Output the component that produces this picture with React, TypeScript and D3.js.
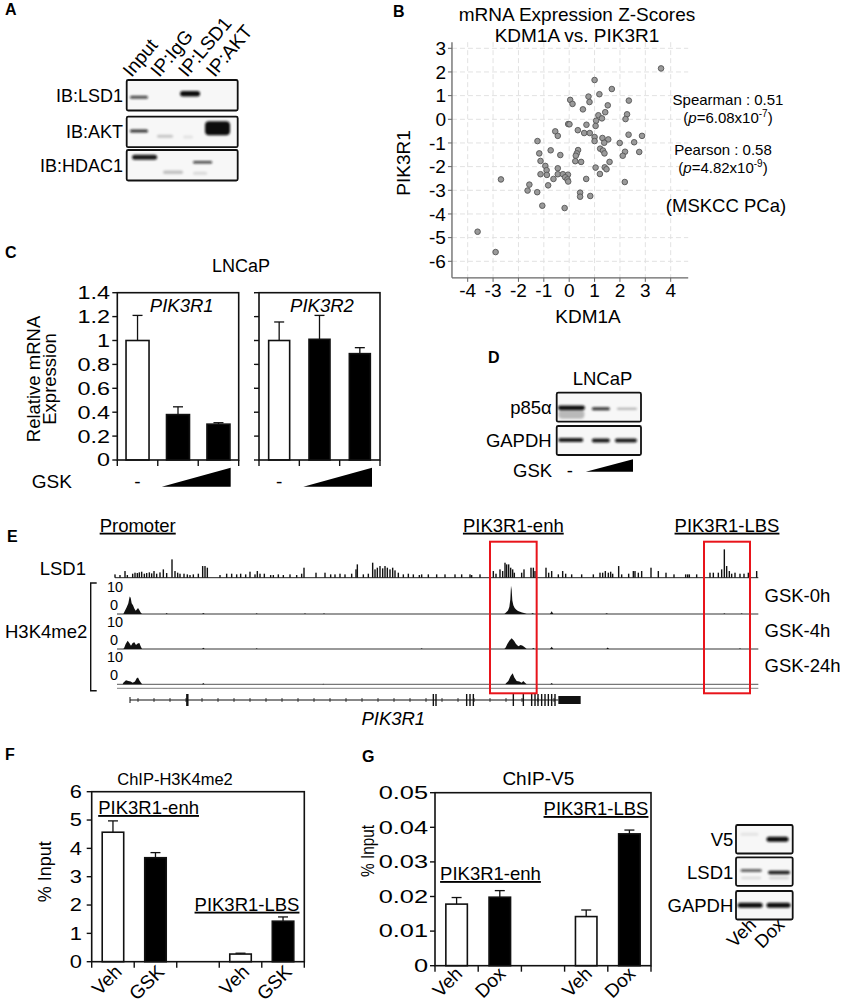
import React from "react";
import * as d3 from "d3";

const FONT = "'Liberation Sans', Arial, Helvetica, sans-serif";

// ---------------- Panel A (co-IP blot) ----------------
const blotALanes = ["Input", "IP:IgG", "IP:LSD1", "IP:AKT"];
const blotARows = ["IB:LSD1", "IB:AKT", "IB:HDAC1"];
// [row, lane, intensity, thickness, width, dy, dx]
const blotABands: number[][] = [
  [0, 0, 0.75, 3, 18, 2, -1.6],
  [0, 2, 1, 5.5, 20, -1.5, -6],
  [1, 0, 0.85, 3, 18, -1, -1.6],
  [1, 1, 0.2, 3, 16, 4.3, -3.3],
  [1, 2, 0.08, 3, 10, 5, -8],
  [1, 3, 1, 14, 25, -3.7, -6.3],
  [2, 0, 0.95, 5, 25, -8, 4],
  [2, 1, 0.22, 3.5, 20, 7, 4.7],
  [2, 2, 0.8, 2.6, 19, -3, 6.5],
  [2, 2, 0.12, 3, 14, 8, 4],
];

// ---------------- Panel B (scatter) ----------------
const kdm1aPik3r1: [number, number][] = [
  [3.62, 2.15], [1.0, 1.66], [1.68, 1.28], [1.19, 1.06], [0.76, 0.96], [0.8, 0.73], [0.04, 0.82],
  [0.13, 0.65], [2.35, 0.79], [1.52, 0.59], [0.54, 0.42], [1.42, 0.3], [1.15, 0.17], [1.29, 0.04],
  [2.28, 0.21], [2.22, 0.01], [1.06, -0.06], [-0.04, -0.2], [0.01, -0.21], [0.68, -0.23], [1.04, -0.28],
  [-0.55, -0.51], [-0.45, -0.7], [0.34, -0.46], [0.59, -0.58], [0.81, -0.58], [1.0, -0.75], [1.31, -0.79],
  [1.54, -0.85], [1.0, -0.92], [1.38, -0.99], [2.34, -0.65], [2.87, -0.7], [1.99, -1.0], [2.56, -0.97],
  [2.2, -1.37], [2.11, -1.54], [2.76, -1.38], [-1.25, -0.92], [-0.73, -1.31], [-1.18, -1.44], [0.35, -1.3],
  [0.3, -1.44], [0.26, -1.54], [0.24, -1.77], [0.47, -1.8], [1.22, -1.24], [1.33, -1.32], [1.39, -1.44],
  [-0.35, -1.51], [-1.13, -1.76], [1.59, -1.8], [1.04, -2.04], [1.4, -2.03], [1.47, -2.11], [-0.94, -1.97],
  [-0.89, -2.15], [-0.88, -2.35], [-1.13, -2.32], [-0.45, -2.07], [-0.45, -2.32], [-0.25, -2.32], [-0.05, -2.34],
  [-0.16, -2.45], [-0.07, -2.54], [-0.04, -2.63], [-0.62, -2.52], [-0.83, -2.79], [-1.57, -2.76], [-1.64, -3.01],
  [-1.26, -3.08], [-2.69, -2.54], [1.21, -2.31], [0.67, -2.52], [2.19, -2.65], [0.43, -3.1], [0.43, -3.27],
  [0.83, -3.24], [-1.06, -3.65], [-0.18, -3.75], [-3.61, -4.75], [-2.9, -5.61],
];
const scatterXTicks = [-4, -3, -2, -1, 0, 1, 2, 3, 4];
const scatterYTicks = [3, 2, 1, 0, -1, -2, -3, -4, -5, -6];

// ---------------- Panel C (qPCR) ----------------
const gskDoses = ["-", "low", "high"];
const pik3r1Mean = [1.0, 0.38, 0.3];
const pik3r1Err = [0.21, 0.065, 0.012];
const pik3r2Mean = [1.0, 1.01, 0.89];
const pik3r2Err = [0.155, 0.2, 0.05];
const cTicks = [0, 0.2, 0.4, 0.6, 0.8, 1, 1.2, 1.4];

// ---------------- Panel D (blot) ----------------
const blotDRows = ["p85α", "GAPDH"];
// [row, lane, intensity, thickness, width, dy, dx]
const blotDBands: number[][] = [
  [0, 0, 1, 4.5, 27, 0.5, 0.7],
  [0, 0, 0.25, 9, 26, 7, 0.7],
  [0, 1, 0.85, 3, 18, 1.5, 2],
  [0, 2, 0.3, 2, 20, 1.5, 0],
  [1, 0, 0.95, 4, 25, -0.5, 0],
  [1, 1, 0.95, 4, 18, 0, 2],
  [1, 2, 0.95, 4, 22, 0, -1],
];

// ---------------- Panel E (tracks) ----------------
// [genomic bin, LSD1 signal]
const lsd1Signal: [number, number][] = [
  [345, 10], [360, 8], [375, 20], [382, 8], [398, 12], [405, 15], [412, 14], [418, 16], [425, 18], [433, 12],
  [440, 14], [448, 16], [455, 13], [462, 20], [470, 12], [480, 16], [490, 25], [500, 14], [516, 55], [525, 20],
  [533, 15], [540, 12], [552, 12], [562, 10], [570, 8], [580, 10], [595, 12], [608, 35], [615, 35], [622, 30],
  [660, 8], [680, 12], [695, 12], [710, 10], [722, 12], [737, 10], [750, 18], [765, 10], [772, 20], [780, 12],
  [793, 12], [812, 8], [820, 8], [835, 10], [850, 8], [870, 10], [890, 8], [905, 12], [912, 30], [948, 15],
  [975, 15], [992, 10], [1005, 10], [1020, 12], [1035, 10], [1055, 12], [1068, 25], [1072, 40], [1090, 10],
  [1105, 12], [1118, 45], [1125, 25], [1132, 30], [1140, 35], [1148, 28], [1155, 35], [1162, 30], [1170, 25],
  [1178, 30], [1185, 22], [1195, 15], [1210, 10], [1225, 12], [1240, 10], [1258, 8], [1265, 10], [1285, 10],
  [1310, 10], [1335, 10], [1365, 10], [1385, 10], [1410, 10], [1415, 8], [1440, 10], [1480, 20], [1488, 12],
  [1500, 25], [1508, 20], [1515, 45], [1520, 40], [1526, 40], [1532, 30], [1538, 25], [1543, 15], [1565, 15],
  [1572, 25], [1593, 30], [1600, 30], [1605, 20], [1638, 30], [1646, 15], [1655, 20], [1675, 10], [1688, 20],
  [1697, 12], [1715, 10], [1745, 10], [1780, 10], [1800, 15], [1808, 15], [1816, 20], [1825, 15], [1832, 18],
  [1838, 12], [1856, 35], [1865, 10], [1886, 12], [1900, 20], [1905, 20], [1915, 15], [1925, 20], [1953, 30],
  [1975, 20], [1998, 15], [2022, 10], [2057, 10], [2063, 10], [2068, 10], [2090, 10], [2130, 15], [2140, 15],
  [2155, 15], [2165, 25], [2173, 85], [2180, 35], [2188, 20], [2195, 12], [2205, 15], [2220, 12], [2232, 12],
  [2245, 15], [2270, 20],
];
const h3k4me2_0h: [number, number][][] = [
  [[370, 0], [374, 1], [380, 2.5], [385, 4], [389, 6.5], [392, 6], [395, 4], [399, 3.2], [403, 2], [407, 1.2], [411, 1.8], [414, 2.2], [418, 1.5], [422, 0.6], [426, 0]],
  [[1513, 0], [1518, 0.6], [1524, 1.3], [1528, 2.6], [1531, 5.5], [1533, 10.5], [1535, 9], [1537, 5], [1540, 3.2], [1544, 2.2], [1549, 1.6], [1554, 1.1], [1560, 0.8], [1566, 0.6], [1572, 0.4], [1580, 0]],
  [[497, 0], [500, 0.4], [503, 0]], [[606, 0], [610, 0.4], [614, 0]], [[767, 0], [770, 0.3], [773, 0]],
  [[912, 0], [915, 0.3], [918, 0]], [[969, 0], [972, 0.3], [975, 0]], [[1594, 0], [1598, 0.4], [1602, 0]],
  [[1650, 0], [1655, 1.0], [1660, 0]], [[1816, 0], [1820, 0.3], [1824, 0]], [[2170, 0], [2173, 0.3], [2176, 0]],
  [[2222, 0], [2225, 0.3], [2228, 0]],
];
const h3k4me2_4h: [number, number][][] = [
  [[370, 0], [373, 0.6], [377, 1.85], [383, 3.1], [388, 2.2], [393, 1.2], [398, 2.2], [403, 2.5], [408, 1.5], [413, 2], [418, 2.2], [422, 1], [426, 0]],
  [[1513, 0], [1517, 0.6], [1522, 1.85], [1528, 3.1], [1535, 4], [1542, 3.1], [1548, 1.85], [1555, 1], [1562, 1.5], [1568, 1.2], [1575, 0.6], [1580, 0]],
  [[606, 0], [610, 0.5], [614, 0]], [[767, 0], [770, 0.3], [773, 0]], [[1262, 0], [1265, 0.3], [1268, 0]],
  [[1596, 0], [1600, 0.4], [1604, 0]], [[1650, 0], [1655, 0.8], [1660, 0]], [[1819, 0], [1823, 0.6], [1827, 0]],
  [[2217, 0], [2220, 0.3], [2223, 0]],
];
const h3k4me2_24h: [number, number][][] = [
  [[368, 0], [370, 0.6], [378, 1.5], [385, 1.2], [392, 1], [398, 0.6], [405, 1], [410, 2.2], [414, 2.5], [418, 1.5], [424, 0.4], [427, 0]],
  [[1516, 0], [1518, 0.4], [1525, 1.2], [1532, 3.1], [1538, 4.1], [1543, 2.5], [1550, 1.2], [1558, 1], [1565, 0.6], [1570, 1.2], [1575, 0.6], [1580, 0]],
  [[606, 0], [610, 0.5], [614, 0]], [[967, 0], [970, 0.2], [973, 0]], [[1651, 0], [1655, 0.5], [1659, 0]],
];
const h3Tracks = [
  { label: "GSK-0h", segs: h3k4me2_0h },
  { label: "GSK-4h", segs: h3k4me2_4h },
  { label: "GSK-24h", segs: h3k4me2_24h },
];
const geneSpan = [390, 1675];
const geneUTR = [1675, 1742];
const geneExons = [562, 1300, 1308, 1400, 1410, 1420, 1540, 1570, 1595, 1605, 1614, 1625, 1635, 1645, 1655, 1665];
const enhRegion = [1470, 1610];
const lbsRegion = [2112, 2250];

// ---------------- Panel F ----------------
const fCats = ["Veh", "GSK", "", "Veh", "GSK"];
const fMean = [4.57, 3.67, NaN, 0.27, 1.43];
const fErr = [0.4, 0.18, NaN, 0.03, 0.15];
const fTicks = [0, 1, 2, 3, 4, 5, 6];

// ---------------- Panel G ----------------
const gCats = ["Veh", "Dox", "", "Veh", "Dox"];
const gMean = [0.0178, 0.0198, NaN, 0.0142, 0.0381];
const gErr = [0.0019, 0.0019, NaN, 0.0019, 0.0011];
const gTicks = [0, 0.01, 0.02, 0.03, 0.04, 0.05];
const blotGRows = ["V5", "LSD1", "GAPDH"];
const blotGLanes = ["Veh", "Dox"];
const blotGBands: number[][] = [
  [0, 0, 0.08, 3, 18, -5, -0.7],
  [0, 1, 1, 5, 22, 0, -1],
  [1, 0, 0.75, 2.6, 21, -1, 1],
  [1, 0, 0.12, 2.5, 20, 6.5, 1],
  [1, 1, 0.95, 3.5, 22, 1, 0.5],
  [1, 1, 0.15, 2.5, 20, 6.5, 0.5],
  [2, 0, 1, 5, 25, 0, 0],
  [2, 1, 1, 5, 24, 0, 0],
];

// ============ components ============
function Blot(props: {
  id: string; x: number; w: number; rowTops: number[]; rowH: number; nLanes: number;
  bands: number[][]; labels: string[]; labelX: number; labelDy: number; fs: number;
}) {
  const { id, x, w, rowTops, rowH, nLanes, bands, labels, labelX, labelDy, fs } = props;
  const lane = d3.scaleBand<number>().domain(d3.range(nLanes)).range([x, x + w]);
  return (
    <g>
      {rowTops.map((t, r) => (
        <g key={r}>
          <clipPath id={`${id}-c${r}`}>
            <rect x={x} y={t} width={w} height={rowH} />
          </clipPath>
          <rect x={x} y={t} width={w} height={rowH} fill="#f7f7f7" />
          <g clipPath={`url(#${id}-c${r})`} filter="url(#blur)">
            {bands.filter((b) => b[0] === r).map((b, i) => {
              const cx = lane(b[1])! + lane.bandwidth() / 2 + b[6];
              const cy = t + rowH / 2 + b[5];
              return (
                <rect key={i} x={cx - b[4] / 2} y={cy - b[3] / 2} width={b[4]} height={b[3]}
                  rx={Math.min(b[3] / 2, 4)} fill="#111" opacity={b[2]} />
              );
            })}
          </g>
          <rect x={x} y={t} width={w} height={rowH} fill="none" stroke="#111" strokeWidth={1.8} rx={1.5} />
          <text x={labelX} y={t + rowH / 2 + labelDy} textAnchor="end" fontSize={fs}>{labels[r]}</text>
        </g>
      ))}
    </g>
  );
}

function BarPanel(props: {
  x0: number; x1: number; yTop: number; yBot: number; domain: [number, number]; ticks: number[];
  fmt: (v: number) => string; showLabels: boolean; labelX: number; n: number; mean: number[]; err: number[];
  fills: string[]; barW: number; fs: number; sx: number;
}) {
  const { x0, x1, yTop, yBot, domain, ticks, fmt, showLabels, labelX, n, mean, err, fills, barW, fs, sx } = props;
  const y = d3.scaleLinear().domain(domain).range([yBot, yTop]);
  const xb = d3.scaleBand<number>().domain(d3.range(n)).range([x0, x1]);
  const bounds = d3.range(n + 1).map((i) => (i < n ? xb(i)! : x1));
  return (
    <g>
      {mean.map((m, i) => {
        if (isNaN(m)) return null;
        const cx = xb(i)! + xb.bandwidth() / 2;
        const top = y(m);
        const et = y(m + err[i]);
        return (
          <g key={i}>
            <line x1={cx} x2={cx} y1={top} y2={et} stroke="#111" strokeWidth={1.3} />
            <line x1={cx - 5} x2={cx + 5} y1={et} y2={et} stroke="#111" strokeWidth={1.3} />
            <rect x={cx - barW / 2} y={top} width={barW} height={yBot - top} fill={fills[i]} stroke="#111" strokeWidth={1.6} />
          </g>
        );
      })}
      <rect x={x0} y={yTop} width={x1 - x0} height={yBot - yTop} fill="none" stroke="#111" strokeWidth={1.6} />
      {ticks.map((t) => (
        <g key={t}>
          <line x1={x0 - 5} x2={x0} y1={y(t)} y2={y(t)} stroke="#111" strokeWidth={1.4} />
          {showLabels && (
            <text transform={`translate(${labelX},${y(t)}) scale(${sx},1)`} dy="0.36em" textAnchor="end" fontSize={fs}>{fmt(t)}</text>
          )}
        </g>
      ))}
      {bounds.map((bx, i) => (
        <line key={i} x1={bx} x2={bx} y1={yBot} y2={yBot + 6} stroke="#111" strokeWidth={1.4} />
      ))}
    </g>
  );
}

function PanelA() {
  const laneX = d3.scaleBand<number>().domain(d3.range(4)).range([126.7, 237.7]);
  return (
    <g>
      <text x={5} y={15} fontSize={16} fontWeight="bold">A</text>
      {blotALanes.map((l, i) => (
        <text key={l} transform={`translate(${laneX(i)! + laneX.bandwidth() / 2 - 9},78) rotate(-50)`} fontSize={19}>{l}</text>
      ))}
      <Blot id="ba" x={126.7} w={111} rowTops={[80, 116.7, 150]} rowH={30.5} nLanes={4} bands={blotABands}
        labels={blotARows} labelX={123} labelDy={6.5} fs={18} />
    </g>
  );
}

function PanelB() {
  const x = d3.scaleLinear().domain([-4, 4]).range([467.7, 670.7]);
  const y = d3.scaleLinear().domain([3, -6]).range([48.3, 261.3]);
  const xl = x(-4.62), xr = x(4.69), yt = y(3.26), yb = y(-6.7);
  return (
    <g>
      <text x={393} y={17} fontSize={16} fontWeight="bold">B</text>
      <text x={577} y={21} textAnchor="middle" fontSize={19}>mRNA Expression Z-Scores</text>
      <text x={577} y={42} textAnchor="middle" fontSize={19}>KDM1A vs. PIK3R1</text>
      {scatterXTicks.map((t) => (
        <line key={"gx" + t} x1={x(t)} x2={x(t)} y1={yt} y2={yb} stroke="#e2e2e2" strokeDasharray="5,3" />
      ))}
      {scatterYTicks.map((t) => (
        <line key={"gy" + t} x1={xl} x2={xr} y1={y(t)} y2={y(t)} stroke="#e2e2e2" strokeDasharray="5,3" />
      ))}
      <line x1={xl} x2={xl} y1={yt} y2={yb} stroke="#666" strokeWidth={1.3} />
      <line x1={xl} x2={xr} y1={yb} y2={yb} stroke="#666" strokeWidth={1.3} />
      {scatterYTicks.map((t) => (
        <g key={"ty" + t}>
          <line x1={xl - 4} x2={xl} y1={y(t)} y2={y(t)} stroke="#666" />
          <text x={xl - 6} y={y(t)} dy="0.36em" textAnchor="end" fontSize={19}>{t}</text>
        </g>
      ))}
      {scatterXTicks.map((t) => (
        <g key={"tx" + t}>
          <line x1={x(t)} x2={x(t)} y1={yb} y2={yb + 4} stroke="#666" />
          <text x={x(t)} y={yb + 19} textAnchor="middle" fontSize={19}>{t}</text>
        </g>
      ))}
      {kdm1aPik3r1.map((p, i) => (
        <circle key={i} cx={x(p[0])} cy={y(p[1])} r={2.8} fill="#9a9a9a" stroke="#555" strokeWidth={0.9} />
      ))}
      <text transform={`translate(410,163) rotate(-90)`} textAnchor="middle" fontSize={19}>PIK3R1</text>
      <text x={588} y={323} textAnchor="middle" fontSize={19}>KDM1A</text>
      <text x={728} y={105} textAnchor="middle" fontSize={15}>Spearman : 0.51</text>
      <text x={728} y={123} textAnchor="middle" fontSize={15}>(<tspan fontStyle="italic">p</tspan>=6.08x10<tspan fontSize={10} dy={-6}>-7</tspan><tspan dy={6}>)</tspan></text>
      <text x={723} y={155} textAnchor="middle" fontSize={15}>Pearson : 0.58</text>
      <text x={723} y={173} textAnchor="middle" fontSize={15}>(<tspan fontStyle="italic">p</tspan>=4.82x10<tspan fontSize={10} dy={-6}>-9</tspan><tspan dy={6}>)</tspan></text>
      <text x={726} y={212} textAnchor="middle" fontSize={18.5}>(MSKCC PCa)</text>
    </g>
  );
}

function Wedge({ x0, x1, yb, h }: { x0: number; x1: number; yb: number; h: number }) {
  return <polygon points={`${x0},${yb} ${x1},${yb} ${x1},${yb - h}`} fill="#000" />;
}

function PanelC() {
  const fmt = (v: number) => (v === 0 ? "0" : v === 1 ? "1" : d3.format(".1f")(v));
  const p1 = [117.3, 238.7], p2 = [259, 380];
  const b1 = d3.scaleBand<number>().domain(d3.range(3)).range(p1 as [number, number]);
  const b2 = d3.scaleBand<number>().domain(d3.range(3)).range(p2 as [number, number]);
  return (
    <g>
      <text x={5} y={258} fontSize={16} fontWeight="bold">C</text>
      <text x={241} y={272} textAnchor="middle" fontSize={18}>LNCaP</text>
      <BarPanel x0={p1[0]} x1={p1[1]} yTop={292.7} yBot={460} domain={[0, 1.4]} ticks={cTicks} fmt={fmt}
        showLabels labelX={110} n={3} mean={pik3r1Mean} err={pik3r1Err} fills={["#fff", "#000", "#000"]} barW={23} fs={18} sx={1.3} />
      <BarPanel x0={p2[0]} x1={p2[1]} yTop={292.7} yBot={460} domain={[0, 1.4]} ticks={cTicks} fmt={fmt}
        showLabels={false} labelX={0} n={3} mean={pik3r2Mean} err={pik3r2Err} fills={["#fff", "#000", "#000"]} barW={21} fs={18} sx={1} />
      <text x={181.7} y={311.7} textAnchor="middle" fontSize={18.5} fontStyle="italic">PIK3R1</text>
      <text x={322} y={311.7} textAnchor="middle" fontSize={18.5} fontStyle="italic">PIK3R2</text>
      <text transform="translate(40,379) rotate(-90)" textAnchor="middle" fontSize={18.5}>Relative mRNA</text>
      <text transform="translate(56,379) rotate(-90)" textAnchor="middle" fontSize={18.5}>Expression</text>
      <text x={31.7} y={488} fontSize={19}>GSK</text>
      <text x={b1(0)! + b1.bandwidth() / 2} y={488} textAnchor="middle" fontSize={19}>{gskDoses[0]}</text>
      <text x={b2(0)! + b2.bandwidth() / 2} y={488} textAnchor="middle" fontSize={19}>{gskDoses[0]}</text>
      <Wedge x0={b1(1)! + 4} x1={p1[1] - 8} yb={486.7} h={19} />
      <Wedge x0={b2(1)! + 4} x1={p2[1] - 8} yb={486.7} h={19} />
    </g>
  );
}

function PanelD() {
  const lane = d3.scaleBand<number>().domain(d3.range(3)).range([556.7, 641]);
  return (
    <g>
      <text x={488} y={363} fontSize={16} fontWeight="bold">D</text>
      <text x={602.5} y={385} textAnchor="middle" fontSize={18.5}>LNCaP</text>
      <Blot id="bd" x={556.7} w={84.3} rowTops={[392.7, 426]} rowH={29} nLanes={3} bands={blotDBands}
        labels={blotDRows} labelX={551.7} labelDy={6.5} fs={18.5} />
      <text x={513} y={476.7} fontSize={18.5}>GSK</text>
      <text x={lane(0)! + lane.bandwidth() / 2 - 1} y={476.7} textAnchor="middle" fontSize={18.5}>-</text>
      <Wedge x0={lane(1)! + 1} x1={641 - 8} yb={471.7} h={12.4} />
    </g>
  );
}

function PanelE() {
  const xE = d3.scaleLinear().domain([0, 2538]).range([0, 846]);
  const hE = d3.scaleLinear().domain([0, 10]).range([0, 27]);
  const lsdH = d3.scaleLinear().domain([0, 90]).range([0, 30]);
  const lsdBase = 577.7;
  const bases = [614, 649, 684.3];
  const trackStart = 351, trackEnd = 2275;
  const geneY = 700;
  const introMarks = d3.range(geneSpan[0] + 24, geneSpan[1] - 10, 48);
  return (
    <g>
      <text x={7} y={542} fontSize={16} fontWeight="bold">E</text>
      <text x={137.7} y={531.7} textAnchor="middle" fontSize={18.5} style={{ textDecoration: "underline" }}>Promoter</text>
      <text x={xE((enhRegion[0] + enhRegion[1]) / 2)} y={531.7} textAnchor="middle" fontSize={18.5} style={{ textDecoration: "underline" }}>PIK3R1-enh</text>
      <text x={xE((lbsRegion[0] + lbsRegion[1]) / 2)} y={531.7} textAnchor="middle" fontSize={18.5} style={{ textDecoration: "underline" }}>PIK3R1-LBS</text>
      <text x={86} y={575} textAnchor="end" fontSize={18.5}>LSD1</text>
      <line x1={xE(345)} x2={xE(trackEnd)} y1={lsdBase} y2={lsdBase} stroke="#222" strokeWidth={1} />
      {lsd1Signal.map((d, i) => (
        <rect key={i} x={xE(d[0]) - 0.7} y={lsdBase - lsdH(d[1])} width={1.4} height={lsdH(d[1])} fill="#111" />
      ))}
      <text x={5} y={638} fontSize={18.5}>H3K4me2</text>
      <path d="M96.7,583 H90.7 V690.7 H96.7" fill="none" stroke="#111" strokeWidth={1.4} />
      {h3Tracks.map((tr, k) => {
        const base = bases[k];
        const area = d3.area<[number, number]>().x((d) => xE(d[0])).y0(base).y1((d) => base - hE(d[1])).curve(d3.curveLinear);
        return (
          <g key={tr.label}>
            <text x={107} y={base - hE(10)} dy="0.35em" fontSize={14.5}>10</text>
            <text x={110} y={base - 4} fontSize={14.5}>0</text>
            <line x1={xE(trackStart)} x2={xE(trackEnd)} y1={base} y2={base} stroke="#777" strokeWidth={1.3} />
            {k === 2 && <line x1={xE(trackStart)} x2={xE(trackEnd)} y1={base + 4} y2={base + 4} stroke="#999" strokeWidth={1.2} />}
            {tr.segs.map((s, j) => (
              <path key={j} d={area(s) || ""} fill="#111" />
            ))}
            <text x={764.5} y={base - 12} fontSize={18.5}>{tr.label}</text>
          </g>
        );
      })}
      {/* gene model */}
      <line x1={xE(geneSpan[0])} x2={xE(geneSpan[1])} y1={geneY} y2={geneY} stroke="#111" strokeWidth={1} />
      {introMarks.map((m, i) => (
        <line key={i} x1={xE(m)} x2={xE(m)} y1={geneY - 2} y2={geneY + 2} stroke="#111" strokeWidth={0.8} />
      ))}
      <line x1={xE(geneSpan[0])} x2={xE(geneSpan[0])} y1={geneY - 3} y2={geneY + 3} stroke="#111" strokeWidth={1} />
      {geneExons.map((e, i) => (
        <rect key={i} x={xE(e) - (i === 0 ? 1.2 : 0.7)} y={geneY - 6} width={i === 0 ? 2.4 : 1.4} height={12} fill="#111" />
      ))}
      <rect x={xE(geneUTR[0])} y={geneY - 4} width={xE(geneUTR[1]) - xE(geneUTR[0])} height={8} fill="#111" />
      <text x={393.3} y={725} textAnchor="middle" fontSize={18.5} fontStyle="italic">PIK3R1</text>
      {[enhRegion, lbsRegion].map((r, i) => (
        <rect key={i} x={xE(r[0])} y={541.7} width={xE(r[1]) - xE(r[0])} height={151.6} fill="none" stroke="#e8141b" strokeWidth={2} />
      ))}
    </g>
  );
}

function PanelF() {
  const xb = d3.scaleBand<number>().domain(d3.range(5)).range([91.7, 304.3]);
  return (
    <g>
      <text x={5} y={760} fontSize={16} fontWeight="bold">F</text>
      <text x={175} y={785} textAnchor="middle" fontSize={16.5}>ChIP-H3K4me2</text>
      <BarPanel x0={91.7} x1={304.3} yTop={791.7} yBot={961.7} domain={[0, 6]} ticks={fTicks} fmt={(v) => String(v)}
        showLabels labelX={82} n={5} mean={fMean} err={fErr} fills={["#fff", "#000", "#000", "#fff", "#000"]} barW={21.5} fs={17.5} sx={1.25} />
      <text x={148.6} y={814} textAnchor="middle" fontSize={18.5} style={{ textDecoration: "underline" }}>PIK3R1-enh</text>
      <text x={247} y={910.7} textAnchor="middle" fontSize={18.5} style={{ textDecoration: "underline" }}>PIK3R1-LBS</text>
      <text transform="translate(51,871.7) rotate(-90)" textAnchor="middle" fontSize={18}>% Input</text>
      {fCats.map((c, i) => c && (
        <text key={i} transform={`translate(${xb(i)! + xb.bandwidth() / 2 + 10},${973}) rotate(-45)`} textAnchor="end" fontSize={19}>{c}</text>
      ))}
    </g>
  );
}

function PanelG() {
  const xb = d3.scaleBand<number>().domain(d3.range(5)).range([435, 651]);
  const fmt = (v: number) => (v === 0 ? "0" : d3.format(".2f")(v));
  const lane = d3.scaleBand<number>().domain(d3.range(2)).range([736, 792.7]);
  return (
    <g>
      <text x={362} y={762} fontSize={16} fontWeight="bold">G</text>
      <text x={538.3} y={785} textAnchor="middle" fontSize={19}>ChIP-V5</text>
      <BarPanel x0={435} x1={651} yTop={792.7} yBot={965.7} domain={[0, 0.05]} ticks={gTicks} fmt={fmt}
        showLabels labelX={428} n={5} mean={gMean} err={gErr} fills={["#fff", "#000", "#000", "#fff", "#000"]} barW={21.5} fs={17.5} sx={1.45} />
      <text x={490.5} y={880} textAnchor="middle" fontSize={18.5} style={{ textDecoration: "underline" }}>PIK3R1-enh</text>
      <text x={596} y={815} textAnchor="middle" fontSize={18.5} style={{ textDecoration: "underline" }}>PIK3R1-LBS</text>
      <text transform="translate(374,851) rotate(-90) scale(0.85,1)" textAnchor="middle" fontSize={18}>% Input</text>
      {gCats.map((c, i) => c && (
        <text key={i} transform={`translate(${xb(i)! + xb.bandwidth() / 2 + 7},${975}) rotate(-45)`} textAnchor="end" fontSize={19}>{c}</text>
      ))}
      <Blot id="bg" x={736} w={56.7} rowTops={[825, 857.3, 891]} rowH={28.5} nLanes={2} bands={blotGBands}
        labels={blotGRows} labelX={733.3} labelDy={7} fs={18.5} />
      {blotGLanes.map((l, i) => (
        <text key={l} transform={`translate(${lane(i)! + lane.bandwidth() / 2 + 7},${926}) rotate(-45)`} textAnchor="end" fontSize={18.5}>{l}</text>
      ))}
    </g>
  );
}

export default function App() {
  return (
    <svg width={846} height={1004} viewBox="0 0 846 1004" fontFamily={FONT}
      style={{ position: "absolute", left: 0, top: 0, background: "#fff" }}>
      <defs>
        <filter id="blur" x="-20%" y="-50%" width="140%" height="200%">
          <feGaussianBlur stdDeviation="0.8" />
        </filter>
      </defs>
      <rect width={846} height={1004} fill="#fff" />
      <PanelA />
      <PanelB />
      <PanelC />
      <PanelD />
      <PanelE />
      <PanelF />
      <PanelG />
    </svg>
  );
}
